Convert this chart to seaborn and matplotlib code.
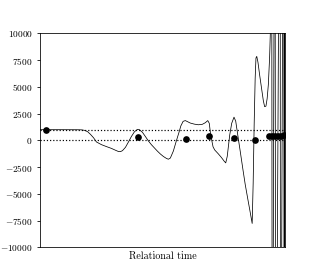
"""
Relational time chart: oscillating curve, sample points, reference levels.
"""

import matplotlib

matplotlib.use("Agg")
import matplotlib.pyplot as plt
import pandas as pd
import seaborn as sns

# Curve (time, value)
curve_time = [
    0.0, 20.0, 38.0, 42.0, 45.0, 48.0, 51.0, 54.0, 57.0, 62.0, 67.0, 72.0,
    76.0, 79.0, 81.0, 83.0, 86.0, 89.0, 92.0, 95.0, 98.0, 100.0, 103.0,
    106.0, 109.0, 112.0, 115.0, 118.0, 121.0, 124.0, 127.0, 129.0, 131.0,
    134.0, 137.0, 139.5, 141.5, 143.8, 146.0, 148.0, 151.0, 155.0, 159.0,
    163.0, 166.0, 168.5, 170.0, 171.2, 172.5, 173.8, 175.5, 179.0, 182.2,
    185.0, 186.5, 188.0, 190.5, 192.5, 194.8, 196.5, 198.8, 201.0, 203.8,
    206.0, 208.8, 211.0, 213.0, 214.0, 215.0, 216.0, 216.8, 217.6, 218.8,
    220.5, 222.5, 224.2, 225.5, 226.8, 228.0, 229.2, 230.5, 231.5,
    232.4, 233.2, 235.8, 236.6, 241.0, 241.4, 244.6, 245.0, 246.0, 246.2,
]
curve_value = [
    1000, 1000, 995, 985, 940, 820, 560, 250, -150, -400, -580, -750,
    -920, -1040, -1050, -960, -650, -150, 370, 800, 1030, 1000, 760,
    360, -50, -400, -700, -1000, -1270, -1500, -1680, -1760, -1650,
    -1000, -50, 700, 1350, 1780, 1850, 1760, 1620, 1520, 1460,
    1500, 1650, 1850, 1600, 670, 0, -600, -900, -1250, -1600,
    -1950, -2100, -1500, 500, 1600, 2170, 1800, 360, -1000, -2760,
    -4100, -5570, -6700, -7760, -4000, 1500, 5800, 7700, 7850, 7300,
    6100, 4800, 3700, 3150, 3200, 3900, 5200, 7800, 11000,
    40000, -40000, 40000, -40000, 40000, -40000, 40000, -40000, 40000, -40000,
]

# Sample points
point_time = [6.5, 98.5, 146.8, 169.5, 195.2, 216.2, 229.5, 233.0, 236.0, 239.0, 242.0, 244.5]
point_value = [1000, 350, 170, 390, 260, 50, 380, 400, 420, 420, 450, 480]

# Reference levels
levels = [0, 1000]

curve = pd.DataFrame({"time": curve_time, "value": curve_value})
points = pd.DataFrame({"time": point_time, "value": point_value})

plt.rcParams["font.family"] = "serif"
plt.rcParams["font.serif"] = ["cmr10", "DejaVu Serif"]
plt.rcParams["mathtext.fontset"] = "cm"
plt.rcParams["axes.formatter.use_mathtext"] = True
plt.rcParams["font.size"] = 10
plt.rcParams["ytick.labelsize"] = 9.4

fig, ax = plt.subplots(figsize=(317 / 72, 278 / 72), dpi=72)
fig.subplots_adjust(left=0.125, right=0.9, bottom=0.11, top=0.88)

sns.lineplot(data=curve, x="time", y="value", ax=ax, color="black",
             linewidth=0.75, sort=False, estimator=None)
for lv in levels:
    ax.axhline(lv, color="black", linestyle=":", linewidth=1.2)
sns.scatterplot(data=points, x="time", y="value", ax=ax, color="black",
                s=45, edgecolor="black", linewidth=0, zorder=5)

ax.set_xlim(0, 246.2)
ax.set_ylim(-10000, 10000)
ax.set_yticks(range(-10000, 10001, 2500))
ax.set_xticks([])
ax.set(xlabel="Relational time", ylabel="")

fig.savefig("out.png", dpi=72)
